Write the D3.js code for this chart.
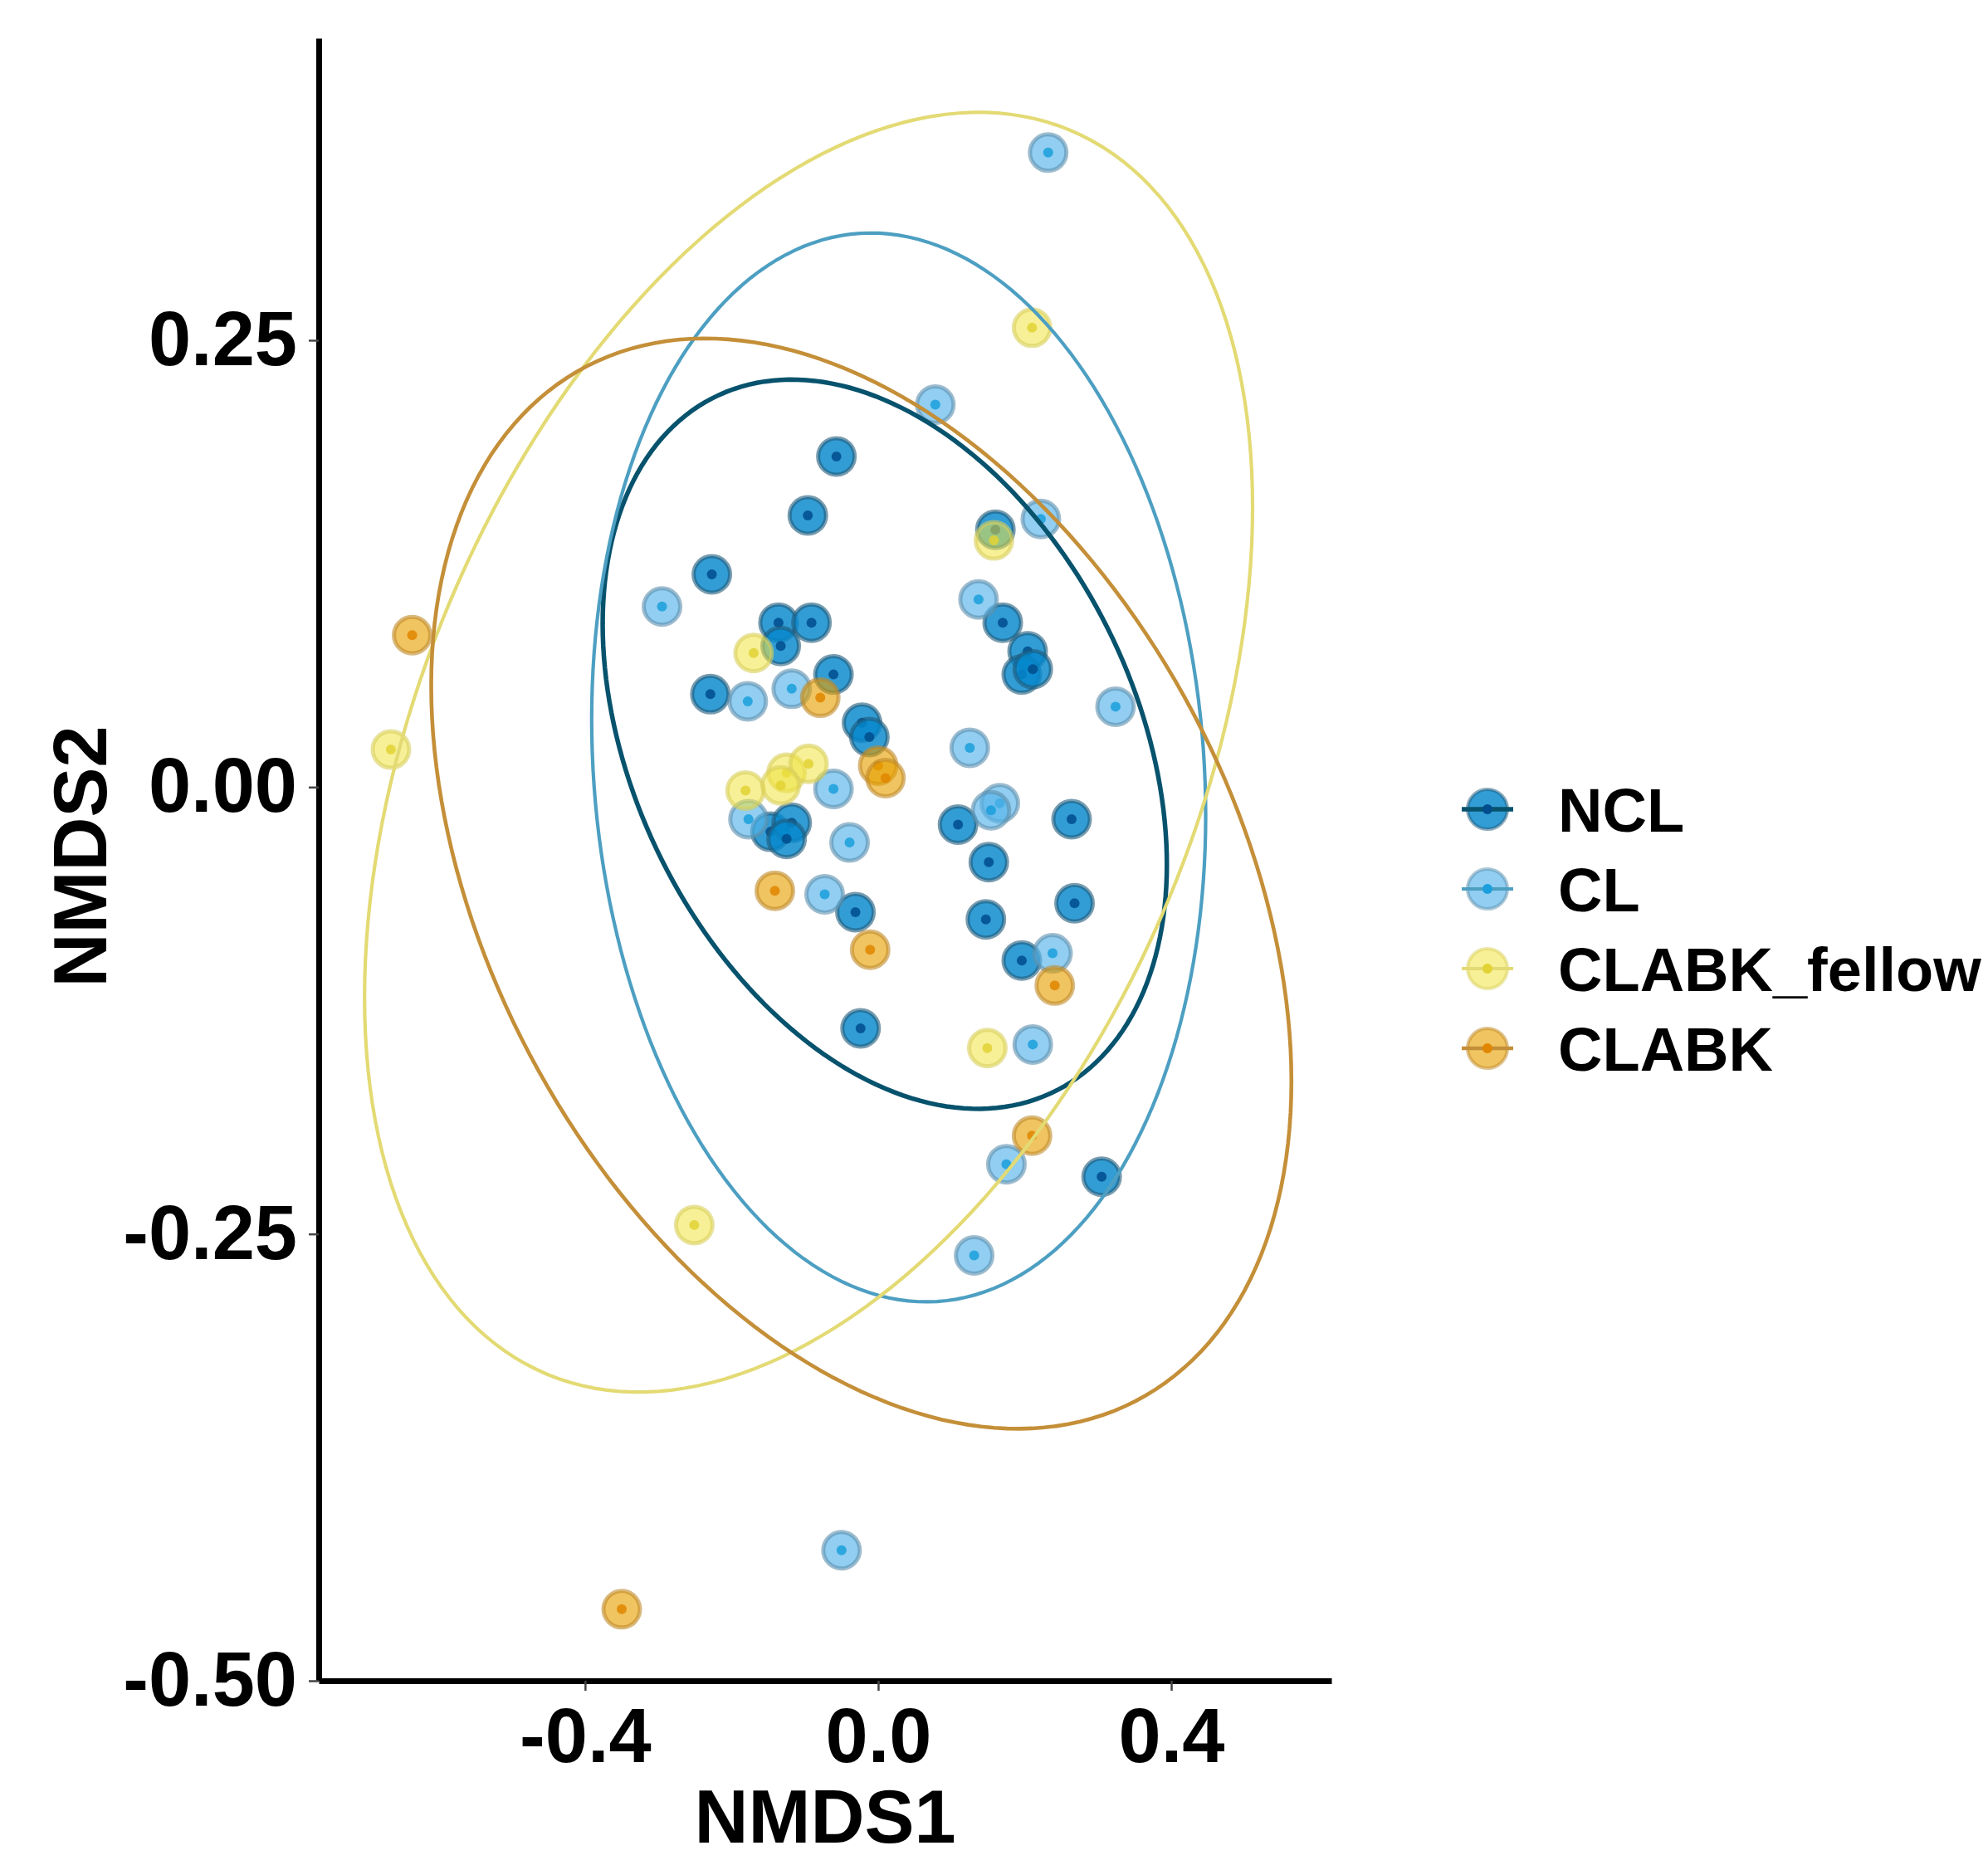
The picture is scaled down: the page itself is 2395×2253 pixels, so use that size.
<!DOCTYPE html>
<html>
<head>
<meta charset="utf-8">
<script src="https://cdn.jsdelivr.net/npm/d3@7"></script>
<style>
  body { margin: 0; background: #fff; }
  svg text { font-family: "Liberation Sans", Arial, sans-serif; font-weight: bold; fill: #000; }
</style>
</head>
<body>
<svg id="nmds_chart" width="2395" height="2253"></svg>
<script>
// groups in legend order
const groups = ["NCL", "CL", "CLABK_fellow", "CLABK"];

// NMDS scores
const nclX = [-0.057, -0.096, -0.227, -0.136, -0.091, -0.133, -0.229, -0.061, -0.022, -0.012, -0.147, -0.118, -0.125, -0.031, -0.024,
              0.160, 0.170, 0.204, 0.196, 0.211, 0.109, 0.264, 0.151, 0.268, 0.147, 0.196, 0.305];
const nclY = [0.185, 0.152, 0.119, 0.092, 0.092, 0.079, 0.052, 0.063, 0.036, 0.028, -0.025, -0.020, -0.029, -0.070, -0.135,
              0.144, 0.092, 0.076, 0.063, 0.066, -0.021, -0.018, -0.042, -0.065, -0.074, -0.097, -0.218];

const clX = [-0.295, -0.178, -0.118, -0.061, -0.039, -0.073, -0.177, 0.222, 0.137, 0.324, 0.125, 0.166, 0.154, 0.238, 0.211,
             0.232, 0.078, 0.175, 0.131, -0.050];
const clY = [0.101, 0.048, 0.055, -0.001, -0.031, -0.060, -0.018, 0.150, 0.105, 0.045, 0.022, -0.009, -0.013, -0.093, -0.144,
             0.355, 0.214, -0.211, -0.262, -0.427];

const fellowX = [-0.170, -0.181, -0.125, -0.095, -0.133, 0.158, 0.210, -0.665, -0.251, 0.149];
const fellowY = [0.075, -0.002, 0.008, 0.013, 0.001, 0.138, 0.257, 0.021, -0.245, -0.146];

const clabkX = [-0.079, 0.000, 0.010, -0.141, -0.011, 0.241, 0.210, -0.636, -0.350];
const clabkY = [0.050, 0.012, 0.005, -0.058, -0.091, -0.111, -0.195, 0.085, -0.460];

// ellipse estimates per group: centre, half-width in x, half-height in y, cos of phase
const ellCx = [0.009, 0.028, -0.095, -0.023];
const ellCy = [0.024, 0.011, 0.0195, -0.054];
const ellA = [0.385, 0.419, 0.606, 0.587];
const ellB = [0.204, 0.299, 0.358, 0.305];
const ellCos = [-0.33, -0.09, 0.383, -0.363];

const xTicks = [-0.4, 0.0, 0.4];
const yTicks = [-0.50, -0.25, 0.00, 0.25];

// styles
const fillCol = { NCL: "#0588cc", CL: "#56B4E9", CLABK_fellow: "#F0E442", CLABK: "#E69F00" };
const fillOp = { NCL: 0.82, CL: 0.65, CLABK_fellow: 0.55, CLABK: 0.62 };
const ringCol = { NCL: "#1f5a7a", CL: "#5d8fae", CLABK_fellow: "#d9cf5a", CLABK: "#c08a2a" };
const dotCol = { NCL: "#004c8c", CL: "#1a9fdc", CLABK_fellow: "#e2d234", CLABK: "#e08600" };
const ellCol = { NCL: "#07526d", CL: "#4d9fc2", CLABK_fellow: "#e3da74", CLABK: "#c48f38" };
const ellW = { NCL: 5.5, CL: 4.2, CLABK_fellow: 4.2, CLABK: 4.6 };

const svg = d3.select('#nmds_chart');
const margin = { top: 46, left: 384, right: 2395 - 1604, bottom: 2253 - 2025 };

const xScale = d3.scaleLinear().domain([-0.7635, 0.6186]).range([margin.left, 2395 - margin.right]);
const yScale = d3.scaleLinear().domain([-0.5, 0.419]).range([2253 - margin.bottom, margin.top]);

const xs = [nclX, clX, fellowX, clabkX];
const ys = [nclY, clY, fellowY, clabkY];
const points = [];
groups.forEach((g, i) => {
    xs[i].forEach((v, j) => points.push({ group: g, x: v, y: ys[i][j] }));
});

// points
const pts = svg.append('g').selectAll('g.pt')
    .data(points)
    .enter()
    .append('g')
    .attr('transform', d => `translate(${xScale(d.x)},${yScale(d.y)})`);
pts.append('circle')
    .attr('r', 22)
    .attr('fill', d => fillCol[d.group])
    .attr('fill-opacity', d => fillOp[d.group])
    .attr('stroke', d => ringCol[d.group])
    .attr('stroke-opacity', 0.6)
    .attr('stroke-width', 5);
pts.append('circle')
    .attr('r', 6)
    .attr('fill', d => dotCol[d.group])
    .attr('fill-opacity', 0.85);

// ellipses
const line = d3.line().x(d => xScale(d[0])).y(d => yScale(d[1]));
const ellData = groups.map((g, i) => {
    const phi = Math.acos(ellCos[i]);
    const path = d3.range(0, 201).map(k => {
        const t = k / 200 * 2 * Math.PI;
        return [ellCx[i] + ellA[i] * Math.cos(t), ellCy[i] + ellB[i] * Math.cos(t - phi)];
    });
    return { group: g, path: path };
});
svg.append('g').selectAll('path')
    .data(ellData)
    .enter()
    .append('path')
    .attr('d', d => line(d.path))
    .attr('fill', 'none')
    .attr('stroke', d => ellCol[d.group])
    .attr('stroke-width', d => ellW[d.group]);

// axes
const yAxis = d3.axisLeft(yScale).tickValues(yTicks).tickFormat(d => d.toFixed(2))
    .tickSize(12).tickSizeOuter(0).tickPadding(14);
const gy = svg.append('g').attr('transform', `translate(${margin.left},0)`).call(yAxis);
const xAxis = d3.axisBottom(xScale).tickValues(xTicks).tickFormat(d => d.toFixed(1))
    .tickSize(12).tickSizeOuter(0).tickPadding(21);
const gx = svg.append('g').attr('transform', `translate(0,${2253 - margin.bottom})`).call(xAxis);

[gx, gy].forEach(a => {
    a.select('.domain').attr('stroke', '#000').attr('stroke-width', 7);
    a.selectAll('.tick line').attr('stroke', '#444').attr('stroke-width', 2.5);
    a.selectAll('.tick text').style('font-size', '92px').attr('fill', '#000');
});

// axis titles
svg.append('text')
    .attr('x', (margin.left + 2395 - margin.right) / 2)
    .attr('y', 2220)
    .attr('text-anchor', 'middle')
    .style('font-size', '90px')
    .text('NMDS1');
svg.append('text')
    .attr('transform', 'rotate(-90)')
    .attr('x', -1032)
    .attr('y', 128)
    .attr('text-anchor', 'middle')
    .style('font-size', '90px')
    .text('NMDS2');

// legend
const legend = svg.append('g').selectAll('g.key')
    .data(groups)
    .enter()
    .append('g')
    .attr('transform', (d, i) => `translate(1792,${975 + i * 96})`);
legend.append('circle')
    .attr('r', 24)
    .attr('fill', d => fillCol[d])
    .attr('fill-opacity', d => fillOp[d])
    .attr('stroke', d => ringCol[d])
    .attr('stroke-opacity', 0.5)
    .attr('stroke-width', 4);
legend.append('line')
    .attr('x1', -31).attr('x2', 31)
    .attr('stroke', d => ellCol[d])
    .attr('stroke-width', d => ellW[d]);
legend.append('circle')
    .attr('r', 6)
    .attr('fill', d => dotCol[d]);
legend.append('text')
    .attr('x', 85)
    .attr('dy', '0.36em')
    .style('font-size', '74px')
    .text(d => d);
</script>
</body>
</html>
